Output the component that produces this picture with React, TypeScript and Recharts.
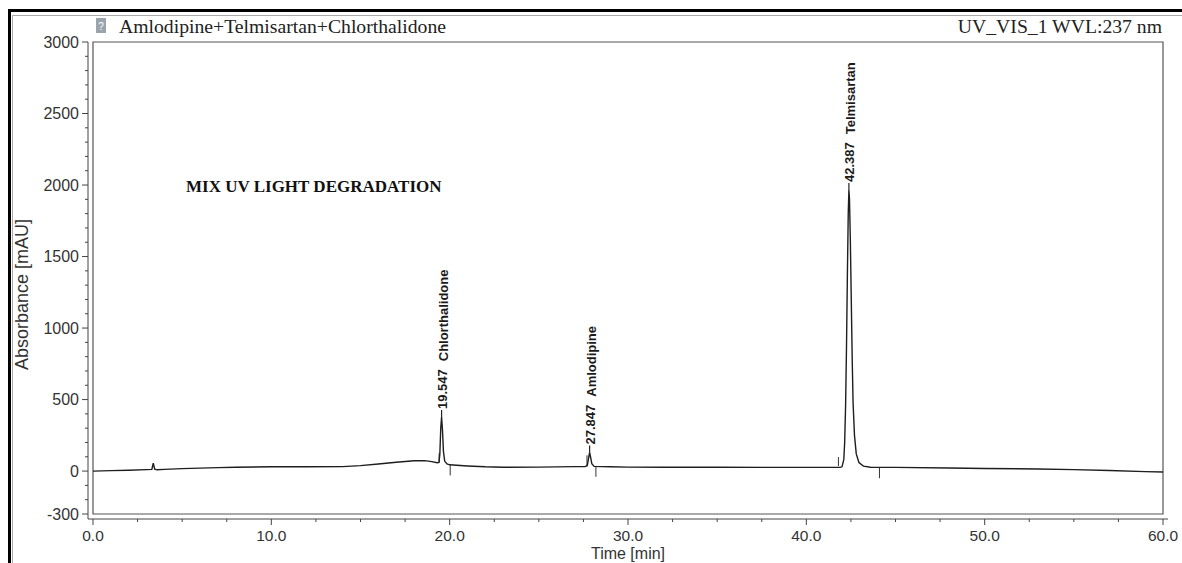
import { ComposedChart, Line, Scatter, XAxis, YAxis, ReferenceArea, ReferenceLine } from 'recharts'

// retention time [min] / absorbance [mAU] of the detector trace
const times = [
  0, 1, 2, 3, 3.3, 3.38, 3.46, 3.6, 4, 5, 6, 7, 8, 10, 12, 14, 15, 16, 17, 18, 18.6, 19.0, 19.3,
  19.4, 19.45, 19.5, 19.547, 19.6, 19.65, 19.72, 19.85, 20.0, 21, 22, 23, 25, 27, 27.6, 27.72, 27.79,
  27.847, 27.9, 27.97, 28.1, 29, 30, 32, 35, 38, 40, 41.9, 42.0, 42.1, 42.15, 42.2, 42.25, 42.3, 42.35,
  42.387, 42.42, 42.47, 42.52, 42.57, 42.62, 42.7, 42.8, 42.95, 43.2, 43.6, 45, 48, 50, 53, 55, 57, 59, 60,
]
const absorbance = [
  0, 3, 6, 10, 12, 56, 14, 9, 12, 17, 21, 24, 27, 30, 30, 31, 38, 50, 62, 72, 73, 66, 58,
  60, 120, 300, 378, 280, 140, 70, 50, 44, 36, 30, 27, 28, 31, 31, 40, 90,
  130, 100, 52, 33, 30, 28, 27, 27, 26, 26, 26, 30, 80, 200, 450, 850, 1350, 1800,
  1965, 1900, 1600, 1200, 800, 480, 250, 120, 60, 35, 27, 26, 22, 18, 15, 10, 4, -4, -6,
]

const peakTimes = [19.547, 27.847, 42.387]
const peakHeights = [378, 130, 1965]
const peakNames = ['Chlorthalidone', 'Amlodipine', 'Telmisartan']

// integration start / end markers: time, from, to
const markerTimes = [19.41, 20.03, 27.7, 28.2, 41.8, 44.1]
const markerFrom = [60, 42, 31, 30, 35, 28]
const markerTo = [125, -30, 110, -40, 98, -50]

const yMajor = [-300, 0, 500, 1000, 1500, 2000, 2500, 3000]
const xMajor = [0, 10, 20, 30, 40, 50, 60]

const yTicks = Array.from({ length: 34 }, (_, i) => -300 + i * 100)
const xTicks = Array.from({ length: 25 }, (_, i) => i * 2.5)

const trace = times.map((t, i) => ({ t, v: absorbance[i] }))
const peaks = peakTimes.map((t, i) => ({ t, v: peakHeights[i], name: peakNames[i] }))

const sans = '"Liberation Sans", Arial, sans-serif'
const serif = '"Liberation Serif", "Times New Roman", serif'

const YTick = (props: any) => {
  const { x, y, payload } = props
  const ax = x + 8
  const major = yMajor.includes(payload.value)
  return (
    <g>
      <line x1={ax - (major ? 6 : 3)} y1={y} x2={ax} y2={y} stroke="#444" />
      {major && (
        <text x={x - 1} y={y} textAnchor="end" dominantBaseline="central" fontFamily={sans} fontSize={16} fill="#333">
          {payload.value}
        </text>
      )}
    </g>
  )
}

const XTick = (props: any) => {
  const { x, y, payload } = props
  const ay = y - 8
  const major = xMajor.includes(payload.value)
  return (
    <g>
      <line x1={x} y1={ay} x2={x} y2={ay + (major ? 6 : 3)} stroke="#444" />
      {major && (
        <text x={x} y={ay + 16} textAnchor="middle" dominantBaseline="central" fontFamily={sans} fontSize={15.5} fill="#333">
          {payload.value.toFixed(1)}
        </text>
      )}
    </g>
  )
}

const PeakLabel = (props: any) => {
  const { cx, cy, payload } = props
  return (
    <g>
      <line x1={cx} y1={cy} x2={cx} y2={cy - 7} stroke="#222" strokeWidth={1.2} />
      <text
        transform={`translate(${cx + 1},${cy - 8}) rotate(-90)`}
        dominantBaseline="central"
        fontFamily={sans}
        fontWeight="bold"
        fontSize={13}
        fill="#1a1a1a"
      >
        {payload.t.toFixed(3)}
        <tspan dx={8}>{payload.name}</tspan>
      </text>
    </g>
  )
}

const AbsLabel = (props: any) => {
  const { viewBox } = props
  const cy = viewBox.y + viewBox.height / 2 + 14
  return (
    <text transform={`translate(22,${cy}) rotate(-90)`} textAnchor="middle" dominantBaseline="central" fontFamily={sans} fontSize={18} fill="#333">
      Absorbance [mAU]
    </text>
  )
}

export default function App() {
  return (
    <div style={{ position: 'fixed', left: 0, top: 0, width: 1182, height: 563, background: '#fff', overflow: 'hidden' }}>
      <div style={{ position: 'absolute', left: 8, top: 9, right: -10, bottom: -10, borderTop: '3px solid #000', borderLeft: '3px solid #000' }} />
      <div style={{ position: 'absolute', left: 12, top: 15, right: -10, bottom: -10, borderTop: '1px solid #aaa', borderLeft: '1px solid #aaa' }} />
      <div style={{ position: 'absolute', left: 96, top: 18, width: 10, height: 15, background: '#9aa4ad', color: '#fff', fontFamily: sans, fontSize: 10, lineHeight: '17px', textAlign: 'center' }}>?</div>
      <div style={{ position: 'absolute', left: 119, top: 15, fontFamily: serif, fontSize: 19.7, color: '#222' }}>
        Amlodipine+Telmisartan+Chlorthalidone
      </div>
      <div style={{ position: 'absolute', right: 20, top: 15, fontFamily: serif, fontSize: 19.7, color: '#222' }}>
        UV_VIS_1 WVL:237 nm
      </div>
      <div style={{ position: 'absolute', left: 186, top: 177, fontFamily: serif, fontWeight: 'bold', fontSize: 17, color: '#111' }}>
        MIX UV LIGHT DEGRADATION
      </div>
      <div style={{ position: 'absolute', left: 0, top: 0 }}>
        <ComposedChart width={1182} height={563} data={trace} margin={{ top: 42, right: 14, bottom: 0, left: 0 }}>
          <XAxis
            dataKey="t"
            type="number"
            domain={[0, 60]}
            ticks={xTicks}
            interval={0}
            tickSize={6}
            tickMargin={2}
            tickLine={false}
            tick={<XTick />}
            height={44}
            padding={{ left: 5, right: 5 }}
            stroke="#444"
            label={{ value: 'Time [min]', position: 'insideBottom', offset: 4, fontFamily: sans, fontSize: 16, fill: '#333' }}
          />
          <YAxis
            type="number"
            domain={[-300, 3000]}
            ticks={yTicks}
            interval={0}
            tickSize={6}
            tickMargin={2}
            tickLine={false}
            tick={<YTick />}
            width={88}
            padding={{ top: 0, bottom: 5 }}
            stroke="#444"
            label={<AbsLabel />}
          />
          <ReferenceArea x1={0} x2={60} y1={-300} y2={3000} fill="none" stroke="#555" strokeWidth={1.2} />
          {markerTimes.map((t, i) => (
            <ReferenceLine
              key={i}
              segment={[{ x: t, y: markerFrom[i] }, { x: t, y: markerTo[i] }]}
              stroke="#333"
              strokeWidth={1}
            />
          ))}
          <Line type="linear" dataKey="v" stroke="#1e1e1e" strokeWidth={1.4} dot={false} isAnimationActive={false} />
          <Scatter data={peaks} dataKey="v" shape={<PeakLabel />} isAnimationActive={false} />
        </ComposedChart>
      </div>
    </div>
  )
}
